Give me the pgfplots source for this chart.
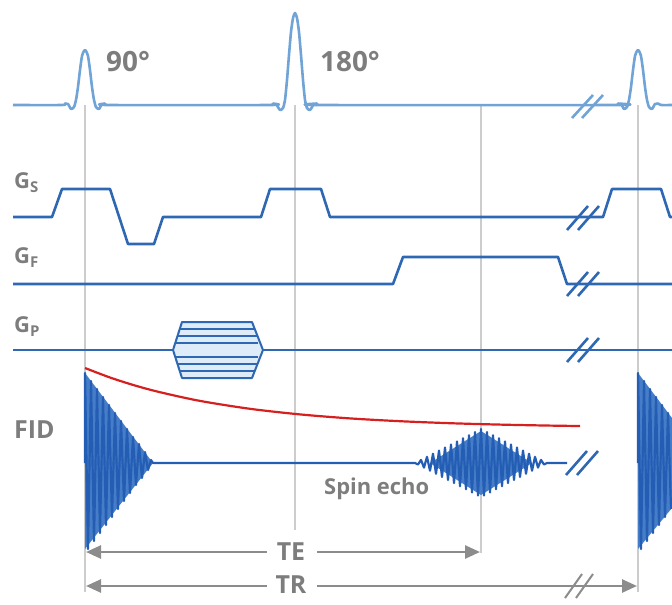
\documentclass[border=0pt]{standalone}
\usepackage{fontspec}
\setmainfont{Open Sans}
\usepackage{pgfplots}
\pgfplotsset{compat=1.18}
\usetikzlibrary{arrows.meta}
\definecolor{rfblue}{RGB}{112,163,214}
\definecolor{gblue}{RGB}{46,104,178}
\definecolor{fidblue}{RGB}{36,94,180}
\definecolor{fidfill}{RGB}{70,125,200}
\definecolor{hexfill}{RGB}{222,236,249}
\definecolor{decayred}{RGB}{214,32,32}
\definecolor{txtgray}{RGB}{125,125,125}
\definecolor{arrgray}{RGB}{140,140,140}
\definecolor{vgray}{RGB}{204,204,204}
\begin{document}
\begin{tikzpicture}
\useasboundingbox (0,0) rectangle (672bp,605bp);
\begin{axis}[hide axis, scale only axis, width=672bp, height=605bp,
  xmin=0, xmax=672, ymin=0, ymax=605, y dir=reverse, clip=false,
  every axis plot/.append style={line join=round}]
% vertical guide lines
\addplot[vgray, line width=1.8bp] coordinates {(85,105) (85,592)};
\addplot[vgray, line width=1.8bp] coordinates {(295,105) (295,530)};
\addplot[vgray, line width=1.8bp] coordinates {(481,105) (481,553)};
\addplot[vgray, line width=1.8bp] coordinates {(638,105) (638,592)};
% RF line
\addplot[rfblue, line width=2.6bp, smooth, tension=0.4] coordinates {
(13,105) (62,105) (65,103.5) (68,104) (71,109) (74,107) (76,100) (78,87) (80,70) (82,56) (84,51) (85,50) (86,51) (88,56) (90,70) (92,87) (94,100) (96,107) (99,109) (102,104) (105,103.5) (108,105)
(270,105) (273,103.5) (276,104) (280,110) (283,108) (285,100) (287,80) (289,55) (291,32) (293,18) (295,13) (297,18) (299,32) (301,55) (303,80) (305,100) (307,108) (310,110) (314,104) (317,103.5) (320,105)
(615,105) (618,103.5) (621,104) (624,109) (627,107) (629,100) (631,87) (633,70) (635,56) (637,51) (638,50) (639,51) (641,56) (643,70) (645,87) (647,100) (649,107) (652,109) (655,104) (658,103.5) (661,105) (672,105)};
% gradients
\addplot[gblue, line width=2.6bp] coordinates {(13,217) (52,217) (62,189) (110,189) (128,244) (154,244) (163,217) (261,217) (270,189) (321,189) (330,217) (603,217) (612,189) (661,189) (670,217) (672,217)};
\addplot[gblue, line width=2.6bp] coordinates {(13,284) (393,284) (403,257) (558,257) (567,284) (672,284)};
\addplot[gblue, line width=2.6bp] coordinates {(13,350) (672,350)};
% phase encoding table
\addplot[gblue, line width=2bp, fill=hexfill] coordinates {(173,350) (182,322) (252,322) (263,350) (252,378) (182,378) (173,350)};
\addplot[gblue, line width=2bp] coordinates {(179.75,329) (254.75,329)};
\addplot[gblue, line width=2bp] coordinates {(177.5,336) (256.5,336)};
\addplot[gblue, line width=2bp] coordinates {(175.25,343) (258.25,343)};
\addplot[gblue, line width=2bp] coordinates {(175.25,357) (258.25,357)};
\addplot[gblue, line width=2bp] coordinates {(177.5,364) (256.5,364)};
\addplot[gblue, line width=2bp] coordinates {(179.75,371) (254.75,371)};
% break marks
\addplot[rfblue, line width=2.6bp] coordinates {(572,118) (593,95)};
\addplot[rfblue, line width=2.6bp] coordinates {(582,118) (603,95)};
\addplot[gblue, line width=2.6bp] coordinates {(567,230) (588,206)};
\addplot[gblue, line width=2.6bp] coordinates {(578,230) (599,206)};
\addplot[gblue, line width=2.6bp] coordinates {(567,296) (588,272)};
\addplot[gblue, line width=2.6bp] coordinates {(578,296) (599,272)};
\addplot[gblue, line width=2.6bp] coordinates {(567,362) (588,338)};
\addplot[gblue, line width=2.6bp] coordinates {(578,362) (599,338)};
\addplot[gblue, line width=2.6bp] coordinates {(566,475) (587,451)};
\addplot[gblue, line width=2.6bp] coordinates {(577,475) (598,451)};
% decay curve
\addplot[decayred, line width=2.2bp, smooth] coordinates {(85,368) (110,377.5) (135,385.5) (160,392.2) (200,400.9) (250,408.8) (300,414.4) (350,418.4) (400,421.2) (450,423.2) (500,424.6) (550,425.6) (580,426)};
% FID envelopes (filled)
\addplot[draw=none, fill=fidfill] coordinates {(85,373) (153,463) (85,549) (85,373)};
\addplot[draw=none, fill=fidfill] coordinates {(430,463) (481,431) (532,463) (481,495) (430,463)};
\addplot[draw=none, fill=fidfill] coordinates {(638,373) (672,418) (672,508) (638,549) (638,373)};
% FID, baseline and echo
\addplot[fidblue, line width=2.2bp] coordinates {
(85,463) (85,373) (88,549) (91,381) (94,541) (97,389) (100,533) (103,397) (106,525) (109,405) (112,517) (115,413) (118,509) (121,421) (124,501) (127,429) (130,493) (133,437) (136,485) (139,444) (142,478) (145,452) (148,470) (151,460) (153,463)
(415,463) (418,464.5) (421,459.9) (424,467.6) (427,456.8) (430,470.7) (433,453.7) (436,473.8) (439,450.6) (442,476.9) (445,447.5) (448,480) (451,444.5) (454,483.1) (457,441.4) (460,486.2) (463,438.3) (466,489.3) (469,435.2) (472,492.4) (475,432.1) (478,495.5) (481,429) (484,495.5) (487,432.1) (490,492.4) (493,435.2) (496,489.3) (499,438.3) (502,486.2) (505,441.4) (508,483.1) (511,444.5) (514,480) (517,447.5) (520,476.9) (523,450.6) (526,473.8) (529,453.7) (532,470.7) (535,456.8) (538,467.6) (541,459.9) (544,464.5) (547,463) (567,463)};
\addplot[fidblue, line width=2.2bp] coordinates {
(638,463) (638,373) (641,549) (644,381) (647,541) (650,389) (653,533) (656,397) (659,525) (662,405) (665,517) (668,413) (671,509)};
% TE / TR arrows
\addplot[arrgray, line width=2.6bp, {Triangle[length=15bp,width=13bp]}-] coordinates {(86,552) (267,552)};
\addplot[arrgray, line width=2.6bp, -{Triangle[length=15bp,width=13bp]}] coordinates {(317,552) (480,552)};
\addplot[arrgray, line width=2.6bp, {Triangle[length=15bp,width=13bp]}-] coordinates {(86,586) (267,586)};
\addplot[arrgray, line width=2.6bp, -{Triangle[length=15bp,width=13bp]}] coordinates {(317,586) (637,586)};
\addplot[arrgray, line width=2bp] coordinates {(565,598) (582,574)};
\addplot[arrgray, line width=2bp] coordinates {(576,598) (593,574)};
% labels
\node[anchor=base west, text=txtgray, font=\fontsize{28}{28}\selectfont\bfseries, inner sep=0pt] at (axis cs:106,72) {90°};
\node[anchor=base west, text=txtgray, font=\fontsize{28}{28}\selectfont\bfseries, inner sep=0pt] at (axis cs:320,72) {180°};
\node[anchor=base west, text=txtgray, font=\fontsize{22}{22}\selectfont\bfseries, inner sep=0pt] at (axis cs:14,188) {G\raisebox{-4bp}{\fontsize{15}{15}\selectfont S}};
\node[anchor=base west, text=txtgray, font=\fontsize{22}{22}\selectfont\bfseries, inner sep=0pt] at (axis cs:14,263) {G\raisebox{-4bp}{\fontsize{15}{15}\selectfont F}};
\node[anchor=base west, text=txtgray, font=\fontsize{22}{22}\selectfont\bfseries, inner sep=0pt] at (axis cs:14,332) {G\raisebox{-4bp}{\fontsize{15}{15}\selectfont P}};
\node[anchor=base west, text=txtgray, font=\fontsize{25}{25}\selectfont\bfseries, inner sep=0pt] at (axis cs:14,438) {FID};
\node[anchor=base west, text=txtgray, font=\fontsize{22}{22}\selectfont\bfseries, inner sep=0pt] at (axis cs:324,494) {Spin echo};
\node[anchor=base, text=txtgray, font=\fontsize{25}{25}\selectfont\bfseries, inner sep=0pt] at (axis cs:291,560) {TE};
\node[anchor=base, text=txtgray, font=\fontsize{25}{25}\selectfont\bfseries, inner sep=0pt] at (axis cs:291,593) {TR};
\end{axis}
\end{tikzpicture}
\end{document}
